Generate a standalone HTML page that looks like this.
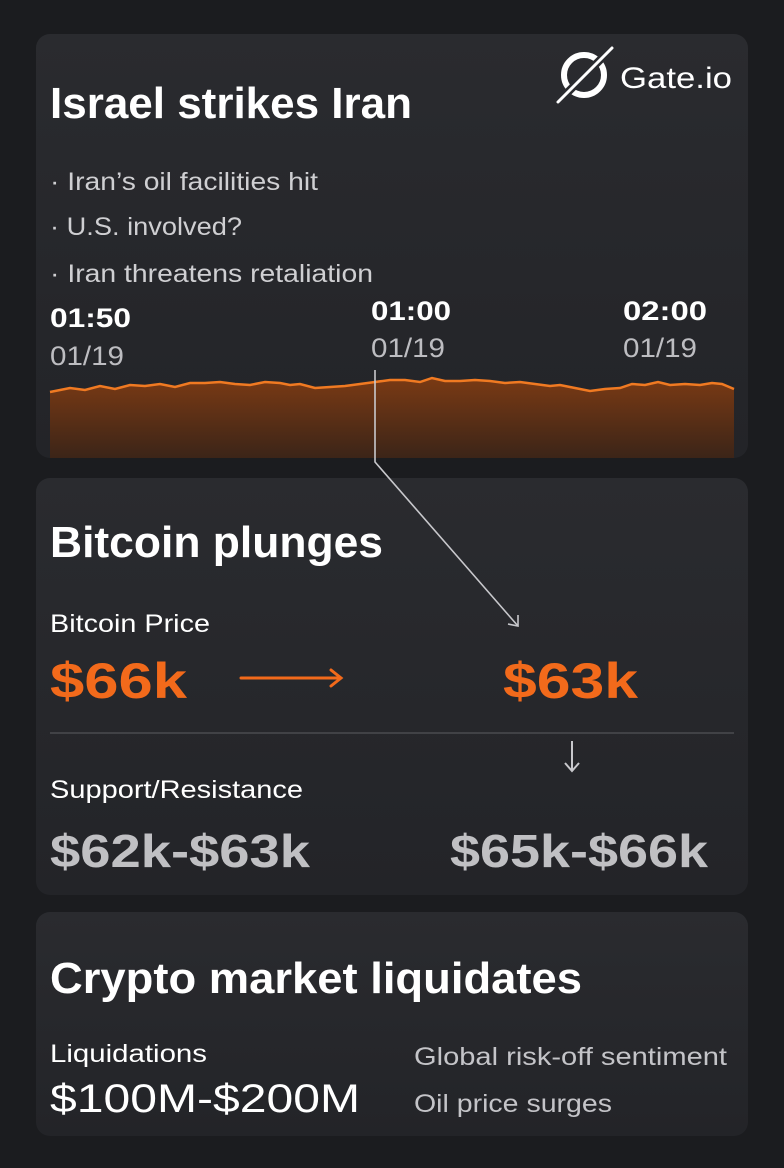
<!DOCTYPE html>
<html><head><meta charset="utf-8"><style>
html,body{margin:0;padding:0;background:#1b1c1f;}
svg{display:block}
text{font-family:"Liberation Sans",sans-serif;}
</style></head><body>
<svg width="784" height="1168" viewBox="0 0 784 1168" xmlns="http://www.w3.org/2000/svg">
<defs>
<linearGradient id="cg" x1="0" y1="0" x2="0" y2="1"><stop offset="0" stop-color="#2a2b2f"/><stop offset="1" stop-color="#232428"/></linearGradient>
<linearGradient id="fg" x1="0" y1="0" x2="0" y2="1"><stop offset="0" stop-color="#7a3a14"/><stop offset="1" stop-color="#3a2418"/></linearGradient>
<clipPath id="c1"><rect x="36" y="34" width="712" height="424" rx="14"/></clipPath>
</defs>
<rect width="784" height="1168" fill="#1b1c1f"/>
<rect x="36" y="34" width="712" height="424" rx="14" fill="url(#cg)"/>
<rect x="36" y="478" width="712" height="417" rx="14" fill="url(#cg)"/>
<rect x="36" y="912" width="712" height="224" rx="14" fill="url(#cg)"/>

<!-- logo -->
<g stroke="#fff" fill="none" stroke-linecap="round">
<circle cx="584" cy="75" r="20" stroke-width="6"/>
<line x1="558" y1="102" x2="612" y2="48" stroke="#2a2b2f" stroke-width="8"/>
<line x1="558" y1="102" x2="612" y2="48" stroke-width="3"/>
</g>
<text x="620" y="88" font-size="30" fill="#fff" textLength="112" lengthAdjust="spacingAndGlyphs">Gate.io</text>

<text x="50" y="118" font-size="44" font-weight="bold" fill="#fff" textLength="362" lengthAdjust="spacingAndGlyphs">Israel strikes Iran</text>
<g font-size="25" fill="#cfcfd2">
<text x="50" y="190" textLength="268" lengthAdjust="spacingAndGlyphs">· Iran’s oil facilities hit</text>
<text x="50" y="235" textLength="192" lengthAdjust="spacingAndGlyphs">· U.S. involved?</text>
<text x="50" y="282" textLength="323" lengthAdjust="spacingAndGlyphs">· Iran threatens retaliation</text>
</g>
<g font-size="27">
<text x="50" y="327" font-weight="bold" fill="#fff" textLength="81" lengthAdjust="spacingAndGlyphs">01:50</text>
<text x="50" y="365" fill="#bdbdc1" textLength="74" lengthAdjust="spacingAndGlyphs">01/19</text>
<text x="371" y="320" font-weight="bold" fill="#fff" textLength="80" lengthAdjust="spacingAndGlyphs">01:00</text>
<text x="371" y="357" fill="#bdbdc1" textLength="74" lengthAdjust="spacingAndGlyphs">01/19</text>
<text x="623" y="320" font-weight="bold" fill="#fff" textLength="84" lengthAdjust="spacingAndGlyphs">02:00</text>
<text x="623" y="357" fill="#bdbdc1" textLength="74" lengthAdjust="spacingAndGlyphs">01/19</text>
</g>
<g clip-path="url(#c1)">
<path d="M50,392 L70,388 L85,390 L100,386 L115,389 L130,385 L145,386 L160,384 L175,387 L190,383 L205,383 L220,382 L235,384 L250,385 L265,382 L280,383 L290,385 L300,384 L315,388 L330,387 L345,386 L360,384 L375,382 L390,380 L405,380 L420,382 L432,378 L445,381 L460,381 L475,380 L490,381 L505,383 L520,382 L535,384 L550,386 L560,385 L575,388 L590,391 L605,389 L620,388 L632,384 L645,385 L658,382 L670,385 L685,384 L700,385 L712,383 L722,384 L734,389 L734,460 L50,460 Z" fill="url(#fg)"/>
<path d="M50,392 L70,388 L85,390 L100,386 L115,389 L130,385 L145,386 L160,384 L175,387 L190,383 L205,383 L220,382 L235,384 L250,385 L265,382 L280,383 L290,385 L300,384 L315,388 L330,387 L345,386 L360,384 L375,382 L390,380 L405,380 L420,382 L432,378 L445,381 L460,381 L475,380 L490,381 L505,383 L520,382 L535,384 L550,386 L560,385 L575,388 L590,391 L605,389 L620,388 L632,384 L645,385 L658,382 L670,385 L685,384 L700,385 L712,383 L722,384 L734,389" fill="none" stroke="#f07a22" stroke-width="2.5"/>
</g>
<!-- connector -->
<g stroke="#c8c8cc" stroke-width="1.6" fill="none">
<path d="M375,370 L375,462 L518,626"/>
<path d="M508,624 L518,626 L518,615"/>
</g>

<text x="50" y="557" font-size="44" font-weight="bold" fill="#fff" textLength="333" lengthAdjust="spacingAndGlyphs">Bitcoin plunges</text>
<text x="50" y="632" font-size="25" fill="#fff" textLength="160" lengthAdjust="spacingAndGlyphs">Bitcoin Price</text>
<text x="50" y="698" font-size="50" font-weight="bold" fill="#f26a1b" textLength="137" lengthAdjust="spacingAndGlyphs">$66k</text>
<g stroke="#f26a1b" stroke-width="3" fill="none" stroke-linecap="round"><path d="M241,678 L341,678 M331,670 L341,678 L331,686"/></g>
<text x="503" y="698" font-size="50" font-weight="bold" fill="#f26a1b" textLength="135" lengthAdjust="spacingAndGlyphs">$63k</text>
<line x1="50" y1="733" x2="734" y2="733" stroke="#4a4b50" stroke-width="1.5"/>
<g stroke="#c8c8cc" stroke-width="2" fill="none"><path d="M572,741 L572,771 M565,763 L572,771 L579,763"/></g>
<text x="50" y="798" font-size="25" fill="#fff" textLength="253" lengthAdjust="spacingAndGlyphs">Support/Resistance</text>
<text x="50" y="867" font-size="46" fill="#c9c9cc" textLength="260" lengthAdjust="spacingAndGlyphs" font-weight="bold" opacity="0.95">$62k-$63k</text>
<text x="450" y="867" font-size="46" fill="#c9c9cc" textLength="258" lengthAdjust="spacingAndGlyphs" font-weight="bold" opacity="0.95">$65k-$66k</text>

<text x="50" y="993" font-size="44" font-weight="bold" fill="#fff" textLength="532" lengthAdjust="spacingAndGlyphs">Crypto market liquidates</text>
<text x="50" y="1062" font-size="25" fill="#fff" textLength="157" lengthAdjust="spacingAndGlyphs">Liquidations</text>
<text x="50" y="1112" font-size="40" fill="#fff" textLength="310" lengthAdjust="spacingAndGlyphs">$100M-$200M</text>
<text x="414" y="1065" font-size="25" fill="#c4c4c8" textLength="313" lengthAdjust="spacingAndGlyphs">Global risk-off sentiment</text>
<text x="414" y="1112" font-size="25" fill="#c4c4c8" textLength="198" lengthAdjust="spacingAndGlyphs">Oil price surges</text>
</svg>
</body></html>
